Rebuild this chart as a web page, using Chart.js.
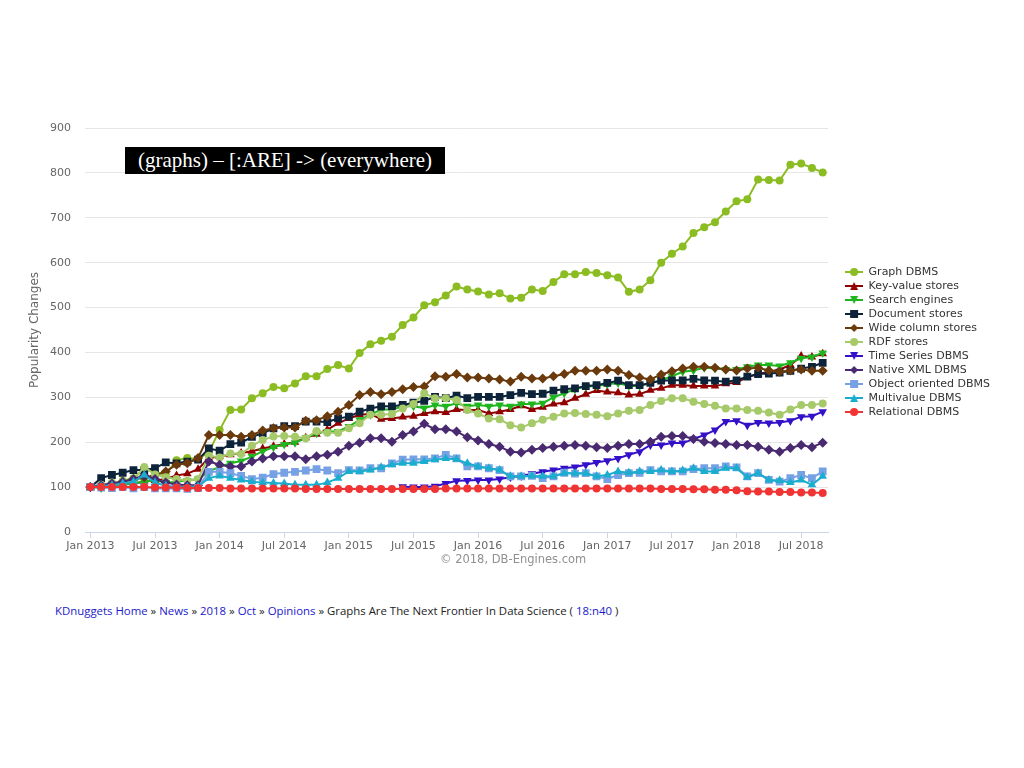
<!DOCTYPE html>
<html>
<head>
<meta charset="utf-8">
<script src="https://cdn.jsdelivr.net/npm/chart.js@4.4.0/dist/chart.umd.min.js"></script>
<style>
body{margin:0;background:#fff;width:1024px;height:768px;position:relative;overflow:hidden;font-family:"DejaVu Sans",sans-serif}
#wrap{position:absolute;left:0;top:100px;width:1024px;height:456px}
#tag{position:absolute;left:125px;top:147px;height:27px;width:320px;background:#000;color:#fff;font:21px "Liberation Serif",serif;line-height:27px;box-sizing:border-box;padding-left:13px;white-space:nowrap}
#credit{position:absolute;left:440px;top:552px;font-size:11.5px;color:#909090}
#crumbs{position:absolute;left:55px;top:603px;font:11.4px "Open Sans",sans-serif;color:#222;white-space:nowrap}
#crumbs a{color:#1a1acc;text-decoration:none}
</style>
</head>
<body>
<div id="wrap"><canvas id="chart" width="1024" height="456"></canvas></div>
<div id="tag">(graphs) – [:ARE] -&gt; (everywhere)</div>
<div id="credit">© 2018, DB-Engines.com</div>
<div id="crumbs"><a href="#">KDnuggets Home</a> » <a href="#">News</a> » <a href="#">2018</a> » <a href="#">Oct</a> » <a href="#">Opinions</a> » Graphs Are The Next Frontier In Data Science ( <a href="#">18:n40</a> )</div>
<script>
// monthly points, Jan 2013 .. Sep 2018
var monthNames = ['Jan','Feb','Mar','Apr','May','Jun','Jul','Aug','Sep','Oct','Nov','Dec'];
var years = [2013, 2014, 2015, 2016, 2017, 2018];
var categories = [];
years.forEach(y => monthNames.forEach(m => { if (categories.length < 69) categories.push(m + ' ' + y); }));

var seriesNames = ['Graph DBMS', 'Key-value stores', 'Search engines', 'Document stores', 'Wide column stores',
  'RDF stores', 'Time Series DBMS', 'Native XML DBMS', 'Object oriented DBMS', 'Multivalue DBMS', 'Relational DBMS'];

var graphDbms = [100,104,108,114,120,140,133,128,160,165,162,178,
  227,272,273,298,309,323,320,331,347,347,363,372,
  364,399,418,426,435,461,478,505,512,527,547,540,
  536,529,532,520,522,540,537,557,574,574,579,577,
  572,567,535,540,561,600,620,636,666,679,690,714,
  737,741,785,784,783,818,821,811,801];
var keyValue = [100,102,104,106,108,112,115,118,126,130,140,165,
  168,172,176,180,186,191,196,200,210,218,228,242,
  253,261,263,251,253,256,258,264,268,266,273,272,
  272,264,268,273,281,273,278,285,288,298,307,315,
  312,310,305,307,316,320,327,327,325,325,325,330,
  333,345,352,357,362,372,392,390,397];
var searchEngines = [100,98,102,105,108,112,115,110,112,115,118,135,
  145,153,158,168,180,189,195,199,210,220,224,224,
  235,250,261,273,273,280,280,276,283,280,287,280,
  283,280,283,280,285,285,287,300,309,318,324,325,
  329,332,325,325,332,338,347,357,360,366,364,362,
  362,368,372,372,370,377,387,390,399];
var documentStores = [100,120,127,132,138,138,142,155,153,157,161,186,
  181,196,199,212,220,231,236,236,246,246,245,253,
  257,268,275,280,280,283,288,292,301,298,304,298,
  301,301,301,305,310,307,308,315,318,320,325,327,
  332,337,327,327,332,337,338,338,341,338,337,335,
  338,346,352,353,355,359,364,368,377];
var wideColumn = [100,104,108,112,116,122,126,135,150,153,165,216,
  216,216,212,216,226,231,233,233,248,249,258,268,
  283,305,312,307,312,318,323,324,347,346,352,344,
  344,342,340,335,346,342,342,347,352,359,359,359,
  362,359,350,344,340,351,358,364,368,368,366,362,
  360,364,366,360,357,360,362,359,359];
var rdfStores = [100,105,110,112,116,145,128,122,118,114,118,170,
  166,175,174,192,205,213,214,212,209,225,221,221,
  231,242,261,261,263,275,285,309,298,298,294,272,
  264,253,251,238,233,242,250,257,264,265,263,261,
  258,264,270,272,283,292,298,298,290,285,281,275,
  275,272,270,266,261,273,283,283,286];
var timeSeries = [null,null,null,null,null,null,null,null,null,null,null,null,
  null,null,null,null,null,null,null,null,null,null,null,null,
  null,null,null,null,null,101,100,100,102,108,114,115,
  116,116,118,122,125,130,134,138,142,145,150,155,
  159,164,172,179,194,194,198,198,207,216,227,246,
  248,238,244,243,244,248,257,258,268];
var nativeXml = [100,104,108,112,118,126,118,110,106,104,104,157,
  150,146,146,157,164,169,169,169,162,169,172,179,
  192,199,209,209,201,216,224,241,229,229,224,211,
  204,196,190,179,177,183,187,190,192,194,192,189,
  187,192,196,196,201,212,214,214,207,201,198,196,
  194,194,190,183,179,187,194,189,199];
var objectOriented = [100,99,98,100,97,100,97,97,97,96,98,134,
  134,131,125,118,121,129,132,134,137,140,137,131,
  138,137,142,142,153,161,162,162,164,172,164,146,
  146,142,138,124,124,125,120,124,132,130,131,124,
  118,127,131,132,138,135,135,135,140,142,142,146,
  144,124,131,116,112,120,127,120,135];
var multivalue = [100,102,104,108,112,127,110,103,100,100,102,120,
  125,120,116,112,110,109,108,105,105,105,110,120,
  135,135,138,144,150,153,153,157,161,164,162,153,
  146,142,138,124,124,125,124,124,131,131,131,124,
  127,135,132,135,135,138,135,137,142,135,135,142,
  142,122,131,116,115,110,116,105,124];
var relational = [100,100,100,100,100,100,99,99,99,98,98,98,
  98,97,97,97,97,97,97,97,96,96,96,96,
  96,96,96,96,96,96,96,96,96,97,97,97,
  97,97,97,97,97,97,97,97,97,97,97,97,
  97,97,97,97,97,96,96,96,95,95,94,94,
  93,91,90,90,89,89,88,88,87];

var seriesValues = [graphDbms, keyValue, searchEngines, documentStores, wideColumn, rdfStores,
  timeSeries, nativeXml, objectOriented, multivalue, relational];
var seriesColors = ['#8bbc21', '#910000', '#1fb51f', '#0d233a', '#6b3a0c', '#a6c96a',
  '#3411c8', '#492970', '#77a1e5', '#1aadce', '#f03333'];
var seriesShapes = ['circle', 'triangle', 'down', 'rect', 'rectRot', 'circle',
  'down', 'rectRot', 'rect', 'triangle', 'circle'];

var markerRadius = { circle: 4, triangle: 5, down: 5, rect: 5.5, rectRot: 5 };

function legendIcon(color, shape) {
  var c = document.createElement('canvas');
  c.width = 18; c.height = 10;
  var g = c.getContext('2d');
  g.strokeStyle = color; g.lineWidth = 2;
  g.beginPath(); g.moveTo(0, 5); g.lineTo(18, 5); g.stroke();
  g.fillStyle = color;
  g.beginPath();
  if (shape === 'circle') g.arc(9, 5, 4, 0, Math.PI * 2);
  else if (shape === 'rect') g.rect(5, 1, 8, 8);
  else if (shape === 'rectRot') { g.moveTo(9, 1); g.lineTo(13, 5); g.lineTo(9, 9); g.lineTo(5, 5); }
  else if (shape === 'triangle') { g.moveTo(9, 1); g.lineTo(13, 9); g.lineTo(5, 9); }
  else { g.moveTo(5, 1); g.lineTo(13, 1); g.lineTo(9, 9); }
  g.closePath(); g.fill();
  return c;
}
var icons = seriesColors.map((c, i) => legendIcon(c, seriesShapes[i]));

Chart.defaults.font.family = '"DejaVu Sans", sans-serif';

var datasets = seriesNames.map((name, i) => ({
  label: name,
  data: seriesValues[i],
  borderColor: seriesColors[i],
  backgroundColor: seriesColors[i],
  borderWidth: 2,
  pointStyle: seriesShapes[i] === 'down' ? 'triangle' : seriesShapes[i],
  pointRotation: seriesShapes[i] === 'down' ? 180 : 0,
  pointRadius: markerRadius[seriesShapes[i]],
  pointBorderWidth: 0,
  tension: 0,
  order: seriesNames.length - i
}));

new Chart(document.getElementById('chart'), {
  type: 'line',
  data: { labels: categories, datasets: datasets },
  options: {
    responsive: false,
    animation: false,
    layout: { padding: { left: 20, top: 28, right: 24, bottom: 0 } },
    plugins: {
      tooltip: { enabled: false },
      legend: {
        position: 'right',
        align: 'center',
        labels: {
          usePointStyle: true,
          pointStyleWidth: 18,
          padding: 3,
          color: '#333',
          font: { size: 11 },
          sort: (a, b) => a.datasetIndex - b.datasetIndex,
          generateLabels: chart => Chart.defaults.plugins.legend.labels.generateLabels(chart)
            .map(l => Object.assign(l, { pointStyle: icons[l.datasetIndex], rotation: 0 }))
        }
      }
    },
    scales: {
      x: {
        type: 'category',
        offset: true,
        grid: { drawOnChartArea: false, drawTicks: true, tickLength: 6, color: '#ccd6eb' },
        border: { color: '#ccd6eb' },
        ticks: {
          autoSkip: false, maxRotation: 0, color: '#666', font: { size: 11 }, padding: 2,
          callback: function (v, i) { return i % 6 === 0 ? this.getLabelForValue(v) : null; }
        },
        afterFit: s => { s.height = 24; }
      },
      y: {
        min: 0, max: 900,
        ticks: { stepSize: 100, color: '#666', font: { size: 11 }, padding: 14 },
        grid: { color: '#e6e6e6', drawTicks: false },
        border: { display: false },
        title: { display: true, text: 'Popularity Changes', color: '#666', font: { size: 12 }, padding: { top: 8, bottom: 0 } },
        afterFit: s => { s.width = 65; }
      },
      gap: {
        type: 'linear',
        position: 'right',
        grid: { display: false },
        ticks: { display: false },
        border: { display: false },
        afterFit: s => { s.width = 14; }
      }
    }
  }
});
</script>
</body>
</html>
